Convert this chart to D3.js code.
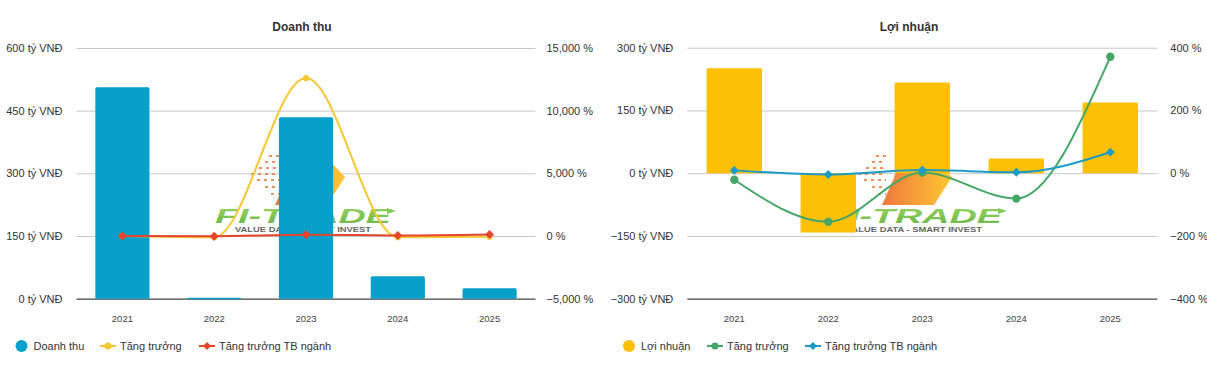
<!DOCTYPE html>
<html>
<head>
<meta charset="utf-8">
<script src="https://cdn.jsdelivr.net/npm/d3@7/dist/d3.min.js"></script>
<style>
  html, body { margin: 0; padding: 0; background: #fff; }
  svg { display: block; font-family: "Liberation Sans", Arial, sans-serif; }
</style>
</head>
<body>
<svg id="chart" width="1207" height="379"></svg>
<script>
// ---------- DATA ----------
const categories = ["2021", "2022", "2023", "2024", "2025"];

// Doanh thu (tỷ VNĐ)
const revenue = [506, 2, 434, 54, 25];
const revenueGrowth = [0, -100, 12600, -88, -54];          // %
const revenueIndustryGrowth = [0, -20, 100, 50, 130];      // %
const revenueTicks = [0, 150, 300, 450, 600];
const revenueGrowthTicks = [-5000, 0, 5000, 10000, 15000];

// Lợi nhuận (tỷ VNĐ)
const profit = [251, -142, 217, 35, 169];
const profitGrowth = [-21, -155, 2, -81, 371];             // %
const profitIndustryGrowth = [9, -4, 10, 3, 67];           // %
const profitTicks = [-300, -150, 0, 150, 300];
const profitGrowthTicks = [-400, -200, 0, 200, 400];

// ---------- DRAW ----------
const svg = d3.select("#chart");
const fmtVal = d => d3.format(",")(d) + " tỷ VNĐ";
const fmtPct = d => d3.format(",")(d) + " %";

function drawChart(cfg) {
  const g = svg.append("g");
  const x = d3.scaleBand().domain(categories).range([cfg.x0, cfg.x1])
    .paddingInner(0.41).paddingOuter(0.205);
  const y = d3.scaleLinear().domain(cfg.valDomain).range([cfg.yBottom, cfg.yTop]);
  const y2 = d3.scaleLinear().domain(cfg.pctDomain).range([cfg.yBottom, cfg.yTop]);

  // title
  g.append("text").attr("x", cfg.titleX).attr("y", 31)
    .attr("text-anchor", "middle").attr("font-size", 12).attr("font-weight", "bold")
    .attr("fill", "#333").text(cfg.title);

  // gridlines
  const grid = g.append("g").attr("transform", `translate(${cfg.x0},0)`)
    .call(d3.axisLeft(y).tickValues(cfg.valTicks).tickSize(-(cfg.x1 - cfg.x0)).tickFormat(""));
  grid.select(".domain").remove();
  grid.selectAll(".tick line").attr("stroke", "#c8c8c8").attr("stroke-width", 1);
  grid.selectAll(".tick").filter(d => d === cfg.valDomain[0])
    .select("line").attr("stroke", "#444").attr("stroke-width", 1.3);

  // left axis labels
  const la = g.append("g").attr("transform", `translate(${cfg.x0 - 11},0)`)
    .call(d3.axisLeft(y).tickValues(cfg.valTicks).tickSize(0).tickFormat(fmtVal));
  la.select(".domain").remove();
  la.selectAll("text").attr("font-size", 11).attr("fill", "#333")
    .attr("font-family", "Liberation Sans, Arial, sans-serif");

  // right axis labels
  const ra = g.append("g").attr("transform", `translate(${cfg.x1 + cfg.rOff},0)`)
    .call(d3.axisRight(y2).tickValues(cfg.pctTicks).tickSize(0).tickFormat(fmtPct));
  ra.select(".domain").remove();
  ra.selectAll("text").attr("font-size", 11).attr("fill", "#333")
    .attr("font-family", "Liberation Sans, Arial, sans-serif");

  // x axis labels
  const xa = g.append("g").attr("transform", `translate(0,${cfg.yBottom + 14})`)
    .call(d3.axisBottom(x).tickSize(0));
  xa.select(".domain").remove();
  xa.selectAll("text").attr("font-size", 9.5).attr("fill", "#444")
    .attr("font-family", "Liberation Sans, Arial, sans-serif");

  // watermark (behind bars)
  const wm = g.append("g").attr("opacity", 0.9);
  const gradId = "wmGrad" + cfg.id;
  const defs = svg.append("defs");
  const lg = defs.append("linearGradient").attr("id", gradId)
    .attr("x1", "0%").attr("x2", "100%").attr("y1", "0%").attr("y2", "0%");
  lg.append("stop").attr("offset", "0%").attr("stop-color", "#ee6a2a");
  lg.append("stop").attr("offset", "100%").attr("stop-color", "#ffc21a");
  const tip = cfg.wmTip, ty = 177;
  wm.append("path").attr("fill", `url(#${gradId})`)
    .attr("d", `M${tip - 50},152 L${tip - 24},152 L${tip},${ty} L${tip - 18},205 L${tip - 70},205 L${tip - 58},178 Z`);
  const dashRows = [[156, 10, 12], [162, 14, 8], [168, 20, 2], [174, 26, -6], [180, 22, 0], [187, 14, 8], [194, 8, 14]];
  dashRows.forEach(r => {
    wm.append("line").attr("x1", tip - 88 + r[2]).attr("x2", tip - 88 + r[2] + r[1])
      .attr("y1", r[0]).attr("y2", r[0]).attr("stroke", "#e9884a")
      .attr("stroke-width", 1.8).attr("stroke-dasharray", "3,4");
  });
  const wgrad = "wmGreen" + cfg.id;
  const lg2 = defs.append("linearGradient").attr("id", wgrad)
    .attr("x1", "0%").attr("x2", "0%").attr("y1", "0%").attr("y2", "100%");
  lg2.append("stop").attr("offset", "0%").attr("stop-color", "#8fd14f");
  lg2.append("stop").attr("offset", "100%").attr("stop-color", "#5aae35");
  wm.append("text").attr("x", cfg.wmX).attr("y", 223)
    .attr("textLength", 176).attr("lengthAdjust", "spacingAndGlyphs")
    .attr("font-size", 21).attr("font-weight", "bold").attr("font-style", "italic")
    .attr("fill", `url(#${wgrad})`).text("FI-TRADE");
  wm.append("path").attr("fill", "#7cc444")
    .attr("d", `M${cfg.wmX + 172},208 L${cfg.wmX + 181},211 L${cfg.wmX + 172},214 Z`);
  wm.append("text").attr("x", cfg.wmX + 20).attr("y", 232)
    .attr("textLength", 136).attr("lengthAdjust", "spacingAndGlyphs")
    .attr("font-size", 7).attr("font-weight", "bold").attr("fill", "#555")
    .text("VALUE DATA - SMART INVEST");

  // bars
  g.append("g").selectAll("rect").data(cfg.bars).join("rect")
    .attr("x", (d, i) => x(categories[i]))
    .attr("width", x.bandwidth())
    .attr("y", d => Math.min(y(d), y(0)))
    .attr("height", d => Math.max(1.5, Math.abs(y(d) - y(0))))
    .attr("rx", 1.5)
    .attr("fill", cfg.barColor);

  const cx = (d, i) => x(categories[i]) + x.bandwidth() / 2;
  const line = yy => d3.line().x(cx).y(d => yy(d)).curve(d3.curveMonotoneX);

  function series(data, color, shape, r) {
    const sg = g.append("g");
    sg.append("path").datum(data).attr("d", line(y2)).attr("fill", "none")
      .attr("stroke", color).attr("stroke-width", 2);
    const sym = d3.symbol().type(shape === "circle" ? d3.symbolCircle : d3.symbolDiamond2).size(r);
    sg.selectAll("path.pt").data(data).join("path").attr("class", "pt")
      .attr("transform", (d, i) => `translate(${cx(d, i)},${y2(d)})`)
      .attr("d", sym).attr("fill", color);
  }
  series(cfg.growth, cfg.growthColor, "circle", cfg.growthSize);
  series(cfg.industry, cfg.industryColor, "diamond", 50);

  // legend
  const lgd = g.append("g").attr("font-size", 11).attr("fill", "#333");
  const ly = 346;
  lgd.append("circle").attr("cx", cfg.legX[0]).attr("cy", ly).attr("r", 6).attr("fill", cfg.barColor);
  lgd.append("text").attr("x", cfg.legX[0] + 12).attr("y", ly + 4).text(cfg.barName);
  const items = [[cfg.legX[1], cfg.growthColor, "circle", "Tăng trưởng"],
                 [cfg.legX[2], cfg.industryColor, "diamond", "Tăng trưởng TB ngành"]];
  items.forEach(it => {
    lgd.append("line").attr("x1", it[0]).attr("x2", it[0] + 16).attr("y1", ly).attr("y2", ly)
      .attr("stroke", it[1]).attr("stroke-width", 2);
    lgd.append("path").attr("transform", `translate(${it[0] + 8},${ly})`)
      .attr("d", d3.symbol().type(it[2] === "circle" ? d3.symbolCircle : d3.symbolDiamond2).size(40))
      .attr("fill", it[1]);
    lgd.append("text").attr("x", it[0] + 20).attr("y", ly + 4).text(it[3]);
  });
}

drawChart({
  id: "L", title: "Doanh thu", titleX: 302,
  x0: 76.5, x1: 535.5, yTop: 48, yBottom: 298.7, rOff: 8,
  valDomain: [0, 600], pctDomain: [-5000, 15000],
  valTicks: revenueTicks, pctTicks: revenueGrowthTicks,
  bars: revenue, barColor: "#07a0cb", barName: "Doanh thu",
  growth: revenueGrowth, growthColor: "#f5c832", growthSize: 30,
  industry: revenueIndustryGrowth, industryColor: "#e5452c",
  wmTip: 345, wmX: 215,
  legX: [21.5, 100, 199]
});

drawChart({
  id: "R", title: "Lợi nhuận", titleX: 909,
  x0: 687.3, x1: 1157.3, yTop: 47.7, yBottom: 298.7, rOff: 10,
  valDomain: [-300, 300], pctDomain: [-400, 400],
  valTicks: profitTicks, pctTicks: profitGrowthTicks,
  bars: profit, barColor: "#fec003", barName: "Lợi nhuận",
  growth: profitGrowth, growthColor: "#45a666", growthSize: 55,
  industry: profitIndustryGrowth, industryColor: "#1b9bc6",
  wmTip: 952, wmX: 826,
  legX: [629, 707, 805]
});
</script>
</body>
</html>
